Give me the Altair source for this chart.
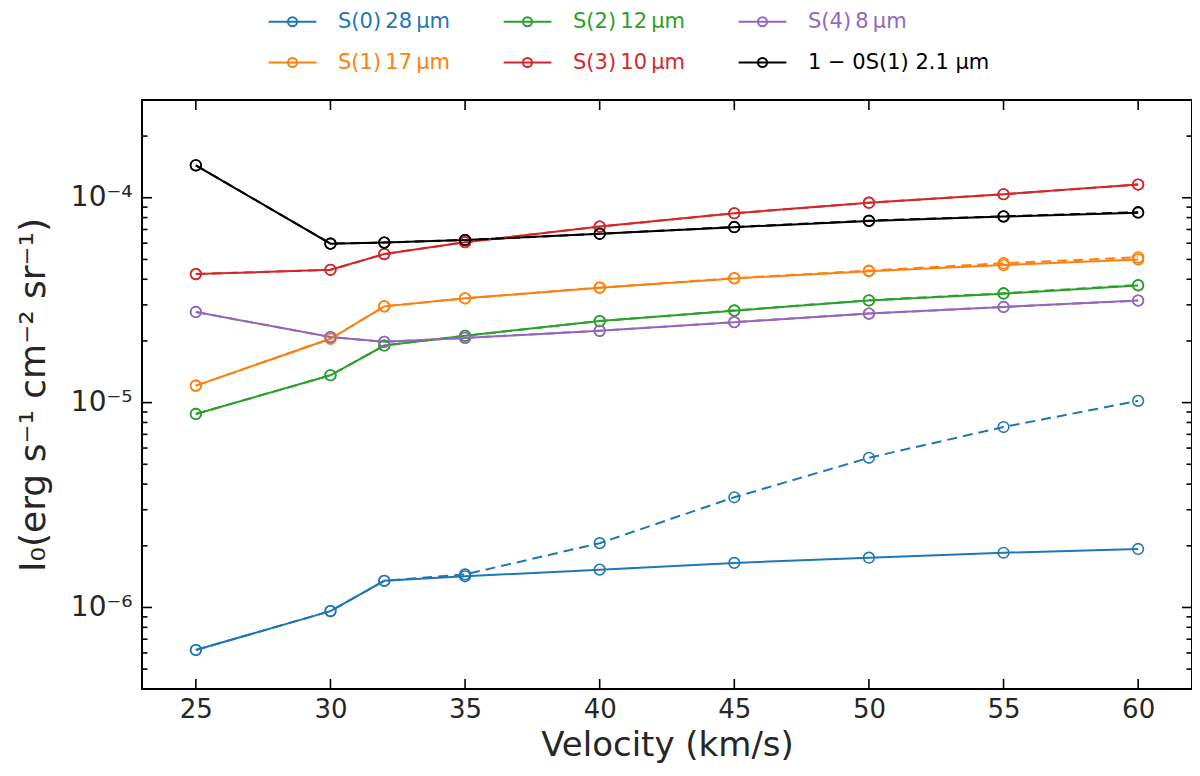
import altair as alt
import pandas as pd

# velocities of the shock models (km/s)
velocity = [25, 30, 32, 35, 40, 45, 50, 55, 60]

# line intensities, solid and dashed model sets
s0_solid = [6.2e-7, 9.6e-7, 1.35e-6, 1.42e-6, 1.53e-6, 1.65e-6, 1.75e-6, 1.85e-6, 1.93e-6]
s0_dashed = [6.2e-7, 9.6e-7, 1.35e-6, 1.45e-6, 2.06e-6, 3.45e-6, 5.38e-6, 7.6e-6, 1.02e-5]
s1_solid = [1.21e-5, 2.05e-5, 2.95e-5, 3.23e-5, 3.64e-5, 4.04e-5, 4.38e-5, 4.69e-5, 5.0e-5]
s1_dashed = [1.21e-5, 2.05e-5, 2.95e-5, 3.23e-5, 3.64e-5, 4.05e-5, 4.41e-5, 4.79e-5, 5.12e-5]
s2_solid = [8.8e-6, 1.36e-5, 1.9e-5, 2.12e-5, 2.5e-5, 2.81e-5, 3.15e-5, 3.4e-5, 3.73e-5]
s2_dashed = [8.8e-6, 1.36e-5, 1.9e-5, 2.12e-5, 2.5e-5, 2.82e-5, 3.16e-5, 3.42e-5, 3.75e-5]
s3_solid = [4.24e-5, 4.45e-5, 5.31e-5, 6.07e-5, 7.23e-5, 8.4e-5, 9.46e-5, 1.04e-4, 1.16e-4]
s3_dashed = [4.24e-5, 4.45e-5, 5.31e-5, 6.07e-5, 7.23e-5, 8.4e-5, 9.46e-5, 1.04e-4, 1.16e-4]
s4_solid = [2.77e-5, 2.09e-5, 1.98e-5, 2.07e-5, 2.24e-5, 2.47e-5, 2.72e-5, 2.93e-5, 3.15e-5]
s4_dashed = [2.77e-5, 2.09e-5, 1.98e-5, 2.07e-5, 2.24e-5, 2.47e-5, 2.72e-5, 2.93e-5, 3.15e-5]
h10_solid = [1.44e-4, 5.97e-5, 6.04e-5, 6.22e-5, 6.67e-5, 7.18e-5, 7.7e-5, 8.09e-5, 8.45e-5]
h10_dashed = [1.44e-4, 5.97e-5, 6.04e-5, 6.22e-5, 6.67e-5, 7.2e-5, 7.73e-5, 8.12e-5, 8.5e-5]

names = ["S(0)\u200928\u2009μm", "S(1)\u200917\u2009μm", "S(2)\u200912\u2009μm",
         "S(3)\u200910\u2009μm", "S(4)\u20098\u2009μm", "1 − 0S(1) 2.1 μm"]
colors = ["#1f77b4", "#ff7f0e", "#2ca02c", "#d62728", "#9467bd", "#000000"]
solid = [s0_solid, s1_solid, s2_solid, s3_solid, s4_solid, h10_solid]
dashed = [s0_dashed, s1_dashed, s2_dashed, s3_dashed, s4_dashed, h10_dashed]

x_ticks = [25, 30, 35, 40, 45, 50, 55, 60]
y_major = [1e-6, 1e-5, 1e-4]
y_minor = [k * 10.0 ** e for e in (-7, -6, -5, -4) for k in range(2, 10)]
y_minor = [v for v in y_minor if 4e-7 <= v <= 2.9e-4]

rows = []
for name, sol, das in zip(names, solid, dashed):
    for v, a, b in zip(velocity, sol, das):
        rows.append({"vel": v, "line": name, "model": "solid", "val": a})
        rows.append({"vel": v, "line": name, "model": "dashed", "val": b})
df = pd.DataFrame(rows)

W, H = 1050, 589
FONT = "DejaVu Sans"

x_scale = alt.Scale(domain=[23, 62], nice=False, zero=False)
y_scale = alt.Scale(type="log", domain=[4e-7, 3e-4], nice=False)

x_enc = alt.X(
    "vel:Q",
    scale=x_scale,
    title="Velocity (km/s)",
    axis=alt.Axis(values=x_ticks, ticks=False, domain=False, grid=False,
                  labelFontSize=26, labelPadding=7, titleFontSize=34,
                  titleFontWeight="normal", titlePadding=6),
)
y_enc = alt.Y(
    "val:Q",
    scale=y_scale,
    title="I₀(erg s⁻¹ cm⁻² sr⁻¹)",
    axis=alt.Axis(values=y_major, ticks=False, domain=False, grid=False,
                  labelExpr="datum.value > 5e-5 ? '10⁻⁴' : datum.value > 5e-6 ? '10⁻⁵' : '10⁻⁶'",
                  labelFontSize=28, labelPadding=10, titleFontSize=36,
                  titleFontWeight="normal", titlePadding=18),
)

color_enc = alt.Color(
    "line:N",
    scale=alt.Scale(domain=names, range=colors),
    legend=alt.Legend(
        title=None, orient="none", legendX=137, legendY=-92, columns=3,
        symbolType="M-1.95,0L1.95,0M-0.37,0A0.37,0.37,0,1,1,0.37,0A0.37,0.37,0,1,1,-0.37,0",
        symbolSize=600, symbolStrokeWidth=2, symbolFillColor="transparent",
        labelFontSize=21, labelOffset=32, labelLimit=400, columnPadding=48, rowPadding=17,
        labelFont=FONT,
        labelColor={"expr": "scale('color', datum.value)"},
    ),
)

base = alt.Chart(df)
solid_lines = base.transform_filter(alt.datum.model == "solid").mark_line(strokeWidth=2).encode(
    x=x_enc, y=y_enc, color=color_enc
)
dashed_lines = base.transform_filter(alt.datum.model == "dashed").mark_line(
    strokeWidth=2, strokeDash=[10, 6]
).encode(x=x_enc, y=y_enc, color=color_enc)
points = base.mark_point(filled=False, size=113, strokeWidth=1.6, opacity=1).encode(
    x=x_enc, y=y_enc, color=color_enc, detail="model:N"
)

# inward ticks on all four sides
xt = pd.DataFrame({"vel": x_ticks})
ymaj = pd.DataFrame({"val": y_major})
ymin = pd.DataFrame({"val": y_minor})
tick = dict(color="black", strokeWidth=1.6)

ticks = [
    alt.Chart(xt).mark_rule(**tick).encode(x=x_enc, y=alt.value(H), y2=alt.value(H - 10)),
    alt.Chart(xt).mark_rule(**tick).encode(x=x_enc, y=alt.value(0), y2=alt.value(10)),
    alt.Chart(ymaj).mark_rule(**tick).encode(y=y_enc, x=alt.value(0), x2=alt.value(10)),
    alt.Chart(ymaj).mark_rule(**tick).encode(y=y_enc, x=alt.value(W), x2=alt.value(W - 10)),
    alt.Chart(ymin).mark_rule(**tick).encode(y=y_enc, x=alt.value(0), x2=alt.value(5.5)),
    alt.Chart(ymin).mark_rule(**tick).encode(y=y_enc, x=alt.value(W), x2=alt.value(W - 5.5)),
]

chart = (
    alt.layer(solid_lines, dashed_lines, points, *ticks)
    .properties(
        width=W,
        height=H,
        autosize=alt.AutoSizeParams(type="none"),
        padding={"left": 134, "top": 92, "right": 0, "bottom": 78},
    )
    .configure_view(stroke="black", strokeWidth=2)
    .configure_axis(labelFont=FONT, titleFont=FONT, labelColor="#262626", titleColor="#262626")
    .configure_legend(labelFont=FONT)
)

chart.save("out.html", embed_options={"renderer": "svg", "actions": False})
